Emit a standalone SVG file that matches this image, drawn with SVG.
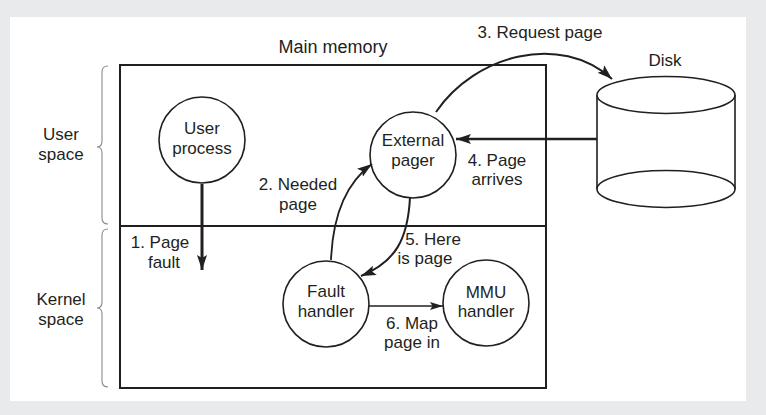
<svg xmlns="http://www.w3.org/2000/svg" width="766" height="415" viewBox="0 0 766 415">
<style>
.t{font-family:"Liberation Sans",Arial,sans-serif;font-size:17px;fill:#231f20;text-anchor:middle}
.node{fill:#fff;stroke:#231f20;stroke-width:1.6}
.box{fill:none;stroke:#231f20;stroke-width:2}
.brace{fill:none;stroke:#8a8a8a;stroke-width:1.1}
.c{fill:none;stroke:#231f20}
</style>
<defs>
<marker id="ah" markerUnits="userSpaceOnUse" markerWidth="16" markerHeight="12" refX="15" refY="5" orient="auto">
<path d="M0,0 L15,5 L0,10 L3,5 z" fill="#231f20"/>
</marker>
<marker id="ahs" markerUnits="userSpaceOnUse" markerWidth="14" markerHeight="10" refX="13" refY="4" orient="auto">
<path d="M0,0 L13,4 L0,8 L2.5,4 z" fill="#231f20"/>
</marker>
</defs>
<rect x="0" y="0" width="766" height="415" fill="#e9eaec"/>
<rect x="10" y="17" width="736" height="384" fill="#fff"/>

<g id="main-memory">
<rect class="box" x="120" y="65" width="426" height="323"/>
<line class="box" x1="120" y1="226" x2="546" y2="226"/>
<text class="t" x="333" y="53" style="font-size:18px">Main memory</text>
</g>

<g id="user-space">
<path class="brace" d="M108,66 Q102,66 102,72 L102,141 Q102,147 97,147 Q102,147 102,153 L102,218 Q102,224 108,224"/>
<text class="t" x="61" y="140">User</text>
<text class="t" x="61" y="160">space</text>
</g>

<g id="kernel-space">
<path class="brace" d="M108,229 Q102,229 102,235 L102,302 Q102,308 97,308 Q102,308 102,314 L102,381 Q102,387 108,387"/>
<text class="t" x="61" y="305">Kernel</text>
<text class="t" x="61" y="325">space</text>
</g>

<g id="disk">
<path class="node" d="M597,95 L597,189 A69,18.5 0 0 0 735,189 L735,95"/>
<path class="c" stroke-width="1.6" d="M597,189 A69,18.5 0 0 1 735,189"/>
<ellipse class="node" cx="666" cy="95" rx="69" ry="18.5"/>
<text class="t" x="665" y="66">Disk</text>
</g>

<g id="user-process">
<circle class="node" cx="202" cy="140" r="43"/>
<text class="t" x="202" y="134">User</text>
<text class="t" x="202" y="154">process</text>
</g>

<g id="external-pager">
<circle class="node" cx="413" cy="155" r="43"/>
<text class="t" x="413" y="146">External</text>
<text class="t" x="413" y="166">pager</text>
</g>

<g id="fault-handler">
<circle class="node" cx="326" cy="304" r="43"/>
<text class="t" x="326" y="297">Fault</text>
<text class="t" x="326" y="317">handler</text>
</g>

<g id="mmu-handler">
<circle class="node" cx="486" cy="303" r="43"/>
<text class="t" x="486" y="298">MMU</text>
<text class="t" x="486" y="317">handler</text>
</g>

<g id="connectors">
<line class="c" stroke-width="3" x1="202" y1="184" x2="202" y2="270" marker-end="url(#ah)"/>
<path class="c" stroke-width="1.8" d="M331,260 C333,210 350,180 372,164" marker-end="url(#ah)"/>
<path class="c" stroke-width="2" d="M436,112 C475,55 560,32 612,79" marker-end="url(#ah)"/>
<line class="c" stroke-width="2.5" x1="597" y1="139" x2="456" y2="139" marker-end="url(#ah)"/>
<path class="c" stroke-width="2" d="M410,197 C408,240 395,262 361,276" marker-end="url(#ah)"/>
<line class="c" stroke-width="1.6" x1="369" y1="306" x2="443" y2="306" marker-end="url(#ahs)"/>
</g>

<g id="labels">
<text class="t" x="160" y="248">1. Page</text>
<text class="t" x="164" y="268">fault</text>
<text class="t" x="298" y="190">2. Needed</text>
<text class="t" x="298" y="210">page</text>
<text class="t" x="540" y="38">3. Request page</text>
<text class="t" x="497" y="166">4. Page</text>
<text class="t" x="497" y="185">arrives</text>
<text class="t" x="433" y="245">5. Here</text>
<text class="t" x="425" y="264">is page</text>
<text class="t" x="412" y="329">6. Map</text>
<text class="t" x="412" y="348">page in</text>
</g>
</svg>
